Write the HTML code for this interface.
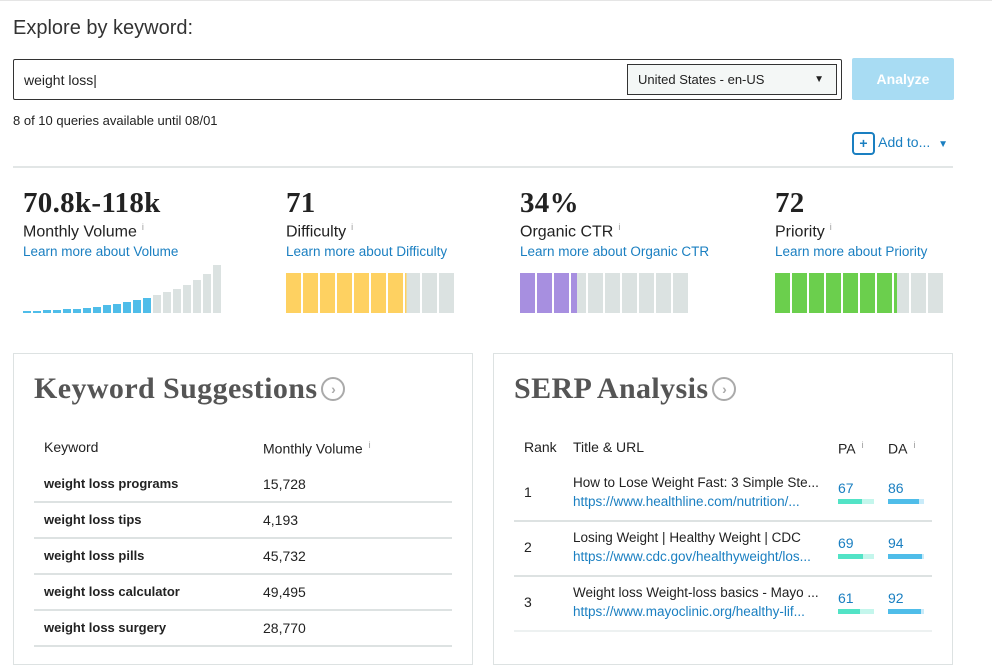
<!DOCTYPE html>
<html><head><meta charset="utf-8"><style>
body{margin:0;width:992px;height:648px;overflow:hidden;background:#fff;font-family:"Liberation Sans",sans-serif;color:#222;position:relative}
.a{position:absolute;white-space:nowrap}
.num{font-family:"Liberation Serif",serif;font-weight:bold;font-size:29px;color:#222;letter-spacing:0.3px}
.lbl{font-size:16px;color:#222}
.lbl sup{font-size:9px;color:#999;margin-left:5px}
.lnk{font-size:13.5px;color:#1a7fc1}
.panel{position:absolute;top:353px;height:310px;border:1px solid #dde2e2;width:458px}
.h{font-family:"Liberation Serif",serif;font-weight:bold;font-size:30px;color:#555;letter-spacing:0.4px}
.circ{display:inline-block;width:20px;height:20px;border:2px solid #aaa;border-radius:50%;font-size:14px;color:#aaa;text-align:center;line-height:20px;vertical-align:4px;margin-left:4px;font-family:"Liberation Sans",sans-serif;letter-spacing:0}
.th{font-size:14px;color:#222}
</style></head><body>
<div class="a" style="left:0;top:0;width:992px;height:1px;background:#e5e5e5"></div>
<div class="a" style="left:13px;top:17px;font-size:20px;color:#333">Explore by keyword:</div>
<div class="a" style="left:13px;top:59px;width:827px;height:39px;border:1px solid #333;border-radius:2px"></div>
<div class="a" style="left:24px;top:72px;font-size:14px">weight loss|</div>
<div class="a" style="left:627px;top:64px;width:208px;height:29px;border:1px solid #333;background:#f4f7f6;font-size:13px;line-height:29px;text-indent:10px">United States - en-US<span style="position:absolute;right:12px;top:0;font-size:10px">▼</span></div>
<div class="a" style="left:852px;top:58px;width:102px;height:42px;background:#a8dcf3;border-radius:2px;color:#fff;font-size:14px;font-weight:bold;text-align:center;line-height:42px">Analyze</div>
<div class="a" style="left:13px;top:113px;font-size:13px">8 of 10 queries available until 08/01</div>
<div class="a" style="left:852px;top:132px;font-size:14px;color:#1a7fc1"><span style="display:inline-block;width:19px;height:19px;border:2px solid #1a7fc1;border-radius:4px;text-align:center;line-height:19px;font-weight:bold;vertical-align:middle">+</span> Add to... <span style="font-size:10px;margin-left:4px">▼</span></div>
<div class="a" style="left:13px;top:166px;width:940px;height:2px;background:#e2e6e6"></div>

<div class="a num" style="left:23px;top:187px">70.8k-118k</div>
<div class="a lbl" style="left:23px;top:222px">Monthly Volume<sup>i</sup></div>
<div class="a lnk" style="left:23px;top:244px">Learn more about Volume</div>
<div class="a num" style="left:286px;top:187px">71</div>
<div class="a lbl" style="left:286px;top:222px">Difficulty<sup>i</sup></div>
<div class="a lnk" style="left:286px;top:244px">Learn more about Difficulty</div>
<div class="a num" style="left:520px;top:187px">34%</div>
<div class="a lbl" style="left:520px;top:222px">Organic CTR<sup>i</sup></div>
<div class="a lnk" style="left:520px;top:244px">Learn more about Organic CTR</div>
<div class="a num" style="left:775px;top:187px">72</div>
<div class="a lbl" style="left:775px;top:222px">Priority<sup>i</sup></div>
<div class="a lnk" style="left:775px;top:244px">Learn more about Priority</div>
<div id="charts"></div>

<div class="panel" style="left:13px"></div>
<div class="a h" style="left:34px;top:372px">Keyword Suggestions<span class="circ">›</span></div>
<div class="a th" style="left:44px;top:439px">Keyword</div>
<div class="a th" style="left:263px;top:440px">Monthly Volume<sup style="font-size:9px;color:#999;margin-left:6px">i</sup></div>
<div id="kw"></div>

<div class="panel" style="left:493px"></div>
<div class="a h" style="left:514px;top:372px">SERP Analysis<span class="circ">›</span></div>
<div class="a th" style="left:524px;top:439px">Rank</div>
<div class="a th" style="left:573px;top:439px">Title &amp; URL</div>
<div class="a th" style="left:838px;top:440px">PA<sup style="font-size:9px;color:#999;margin-left:6px">i</sup></div>
<div class="a th" style="left:888px;top:440px">DA<sup style="font-size:9px;color:#999;margin-left:6px">i</sup></div>
<div id="serp"></div>

<script>
const volumeHistory=[2,2,3,3,4,4,5,6,8,9,11,13,15,18,21,24,28,33,39,48];
const volumeActive=13;
const scores=[71,34,72];
const kwNames=["weight loss programs","weight loss tips","weight loss pills","weight loss calculator","weight loss surgery"];
const kwVolumes=["15,728","4,193","45,732","49,495","28,770"];
const serpTitles=["How to Lose Weight Fast: 3 Simple Ste...","Losing Weight | Healthy Weight | CDC","Weight loss Weight-loss basics - Mayo ..."];
const serpUrls=["https://www.healthline.com/nutrition/...","https://www.cdc.gov/healthyweight/los...","https://www.mayoclinic.org/healthy-lif..."];
const serpPA=[67,69,61];
const serpDA=[86,94,92];

const ch=document.getElementById('charts');
function mk(parent,css){const d=document.createElement('div');d.className='a';d.style.cssText=css;parent.appendChild(d);return d;}
const maxV=Math.max(...volumeHistory);
volumeHistory.forEach((v,i)=>{const h=v/maxV*48;
 const d=mk(ch,`left:${23+i*10}px;top:${313-h}px;width:8px;height:${h}px;background:${i<volumeActive?'#4fbde9':'#dbe2e1'}`);
 
 });
const segX=[286,520,775],segC=['#fed161','#a78fe0','#6bcf4d'];
scores.forEach((s,k)=>{for(let i=0;i<10;i++){
 const f=Math.max(0,Math.min(1,s/10-i));
 const d=mk(ch,`left:${segX[k]+i*17}px;top:273px;width:15px;height:40px;background:linear-gradient(to right,${segC[k]} ${f*100}%,#dbe2e1 ${f*100}%)`);
 
 }});

const kw=document.getElementById('kw');
kwNames.forEach((n,i)=>{const y=484+i*36;
 const a=mk(kw,`left:44px;top:${y-8}px;font-size:13px;font-weight:bold`);a.textContent=n;
 
 
 const b=mk(kw,`left:263px;top:${y-8}px;font-size:14px`);b.textContent=kwVolumes[i];
 
 
 const s=mk(kw,`left:34px;top:${y+17}px;width:418px;height:2px;background:#dde2e2`);
 
 });

const sp=document.getElementById('serp');
serpTitles.forEach((t,i)=>{const y=484+i*55;
 const r=mk(sp,`left:524px;top:${y}px;font-size:14px`);r.textContent=String(i+1);
 
 
 const a=mk(sp,`left:573px;top:${y-9}px;font-size:13.5px`);a.textContent=t;
 
 
 const u=mk(sp,`left:573px;top:${y+10}px;font-size:13.5px;color:#1a7fc1`);u.textContent=serpUrls[i];
 
 
 [[serpPA[i],838,'#52e3c6','#c4f6ec'],[serpDA[i],888,'#4fbde9','#c9ebf9']].forEach(([v,x,c1,c2])=>{
  const n=mk(sp,`left:${x}px;top:${y-4}px;font-size:14px;color:#1a7fc1`);n.textContent=v;
  
  
  const bg=mk(sp,`left:${x}px;top:${y+15}px;width:36px;height:5px;background:linear-gradient(to right,${c1} ${v}%,${c2} ${v}%)`);
  
  });
 const s=mk(sp,`left:514px;top:${y+36}px;width:418px;height:2px;background:${i<2?'#dde2e2':'#edf1f1'}`);
 
 });
</script>
</body></html>
